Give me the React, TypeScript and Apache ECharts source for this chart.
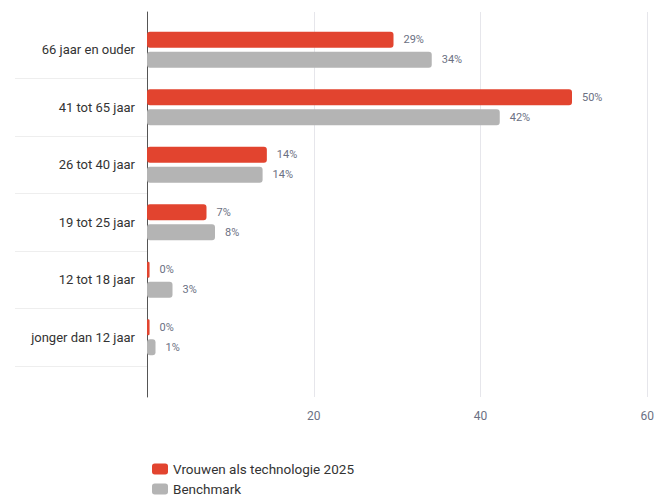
import React, { useEffect, useRef } from "react";
import * as echarts from "echarts";

const categories = [
  "66 jaar en ouder",
  "41 tot 65 jaar",
  "26 tot 40 jaar",
  "19 tot 25 jaar",
  "12 tot 18 jaar",
  "jonger dan 12 jaar",
];
const vrouwen = [29, 50, 14.1, 7, 0.3, 0.3];
const benchmark = [33.5, 41.5, 13.6, 8, 3, 1];
const seriesNames = ["Vrouwen als technologie 2025", "Benchmark"];
const xMin = 0;
const xMax = 60;
const xInterval = 20;

const FONT = "Roboto, 'Noto Sans', sans-serif";

export default function App() {
  const ref = useRef<HTMLDivElement>(null);
  useEffect(() => {
    if (!ref.current) return;
    const chart = echarts.init(ref.current, undefined, { renderer: "svg" });
    const label = {
      show: true,
      position: "right" as const,
      distance: 10,
      color: "#6b7083",
      fontSize: 11,
      fontFamily: FONT,
      formatter: (p: any) => Math.round(p.value) + "%",
    };
    chart.setOption({
      animation: false,
      textStyle: { fontFamily: FONT },
      grid: [
        { left: 147, right: 0, top: 21, height: 345 },
        { left: 147, right: 0, top: 12, height: 385 },
      ],
      legend: {
        orient: "vertical",
        left: 147,
        top: 457,
        itemWidth: 16,
        itemHeight: 11,
        itemGap: 6,
        icon: "roundRect",
        data: seriesNames,
        textStyle: { color: "#333", fontSize: 13.5, fontFamily: FONT },
      },
      xAxis: [
        { gridIndex: 0, type: "value", min: xMin, max: xMax, show: false },
        {
          gridIndex: 1,
          type: "value",
          min: xMin,
          max: xMax,
          interval: xInterval,
          axisLine: { show: false },
          axisTick: { show: false },
          splitLine: { show: true, lineStyle: { color: "#e6e6eb" } },
          axisLabel: {
            showMinLabel: false,
            margin: 13,
            color: "#6b7083",
            fontSize: 12,
            fontFamily: FONT,
          },
        },
      ],
      yAxis: [
        {
          gridIndex: 0,
          type: "category",
          data: categories,
          inverse: true,
          axisLine: { show: false },
          axisTick: {
            show: true,
            length: 132,
            interval: (index: number) => index > 0,
            lineStyle: { color: "#eeeeee" },
          },
          axisLabel: {
            margin: 12,
            color: "#333333",
            fontSize: 13,
            fontFamily: FONT,
          },
        },
        {
          gridIndex: 1,
          type: "value",
          min: 0,
          max: 1,
          axisLine: { show: true, lineStyle: { color: "#555555" } },
          axisTick: { show: false },
          axisLabel: { show: false },
          splitLine: { show: false },
        },
      ],
      series: [
        {
          name: seriesNames[0],
          type: "bar",
          xAxisIndex: 0,
          yAxisIndex: 0,
          data: vrouwen,
          barWidth: 16,
          barGap: "25%",
          itemStyle: { color: "#e2442f", borderRadius: 3 },
          label,
        },
        {
          name: seriesNames[1],
          type: "bar",
          xAxisIndex: 0,
          yAxisIndex: 0,
          data: benchmark,
          barWidth: 16,
          itemStyle: { color: "#b4b4b4", borderRadius: 3 },
          label,
        },
      ],
    });
    return () => chart.dispose();
  }, []);
  return (
    <div
      ref={ref}
      style={{ position: "fixed", left: 0, top: 0, width: 657, height: 540, background: "#fff" }}
    />
  );
}
